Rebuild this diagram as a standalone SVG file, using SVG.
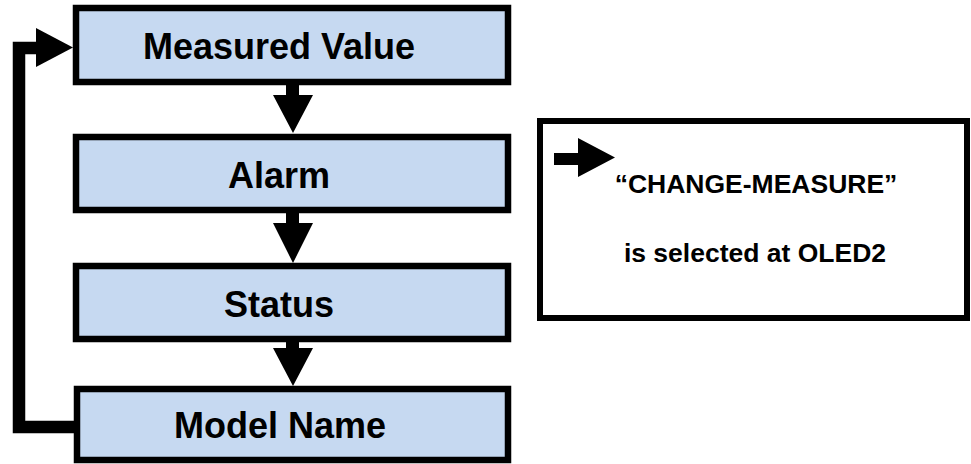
<svg xmlns="http://www.w3.org/2000/svg" width="971" height="464" viewBox="0 0 971 464">
<style>
.box{fill:#c6d9f1;stroke:#000;stroke-width:6.5}
.note{fill:#fff;stroke:#000;stroke-width:6}
.lbl{font-family:"Liberation Sans",Arial,sans-serif;font-weight:bold;font-size:36px;fill:#000;text-anchor:middle}
.ntxt{font-family:"Liberation Sans",Arial,sans-serif;font-weight:bold;font-size:26.5px;fill:#000;text-anchor:middle}
.arr{fill:#000}
</style>
<rect width="971" height="464" fill="#fff"/>
<g id="connectors">
<polygon class="arr" points="286,85 299,85 299,95 313,95 293,133 273,95 286,95"/>
<polygon class="arr" points="286,213 299,213 299,223 313,223 293,263 273,223 286,223"/>
<polygon class="arr" points="286,342 299,342 299,348 313,348 293,386 273,348 286,348"/>
<path d="M75,427 H19 V48 H40" fill="none" stroke="#000" stroke-width="12.5"/>
<polygon class="arr" points="36,28 73,47.5 36,67"/>
</g>
<g id="measured-value">
<rect class="box" x="76" y="8" width="432" height="74"/>
<text class="lbl" x="279" y="59">Measured Value</text>
</g>
<g id="alarm">
<rect class="box" x="76" y="137" width="432" height="73"/>
<text class="lbl" x="279" y="188">Alarm</text>
</g>
<g id="status">
<rect class="box" x="76" y="266" width="432" height="73"/>
<text class="lbl" x="279" y="317">Status</text>
</g>
<g id="model-name">
<rect class="box" x="77" y="389" width="431" height="71"/>
<text class="lbl" x="280" y="438">Model Name</text>
</g>
<g id="note">
<rect class="note" x="540" y="121" width="427" height="197"/>
<polygon class="arr" points="554,153 578,153 578,138 615,157.5 578,177 578,165 554,165"/>
<text class="ntxt" x="756" y="193">“CHANGE-MEASURE”</text>
<text class="ntxt" x="755" y="262">is selected at OLED2</text>
</g>
</svg>
